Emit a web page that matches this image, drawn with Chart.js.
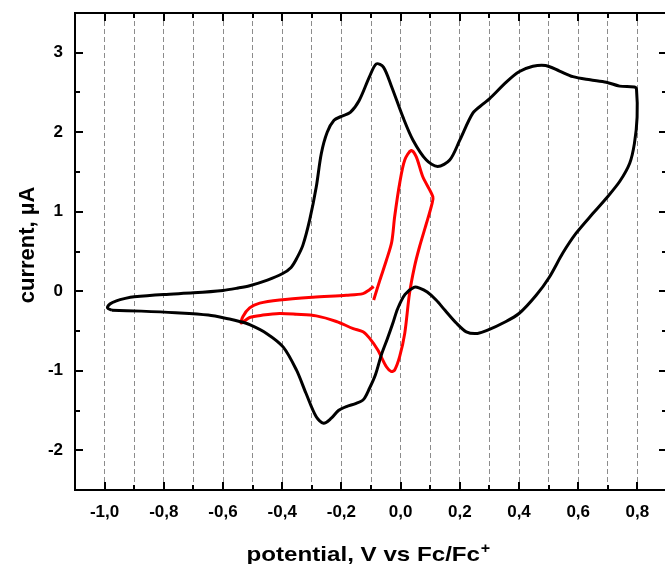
<!DOCTYPE html>
<html>
<head>
<meta charset="utf-8">
<script src="https://cdn.jsdelivr.net/npm/chart.js@4.4.1/dist/chart.umd.min.js"></script>
<style>
  html, body { margin: 0; padding: 0; background: #fff; overflow: hidden; }
  #wrap { width: 665px; height: 564px; overflow: hidden; }
  canvas { display: block; }
</style>
</head>
<body>
<div id="wrap"><canvas id="cv" width="670" height="564"></canvas></div>
<script>
/* ---- DATA ---- */
const blackX = [-0.975, -0.99, -0.982, -0.96, -0.93, -0.90, -0.80, -0.70, -0.60, -0.55, -0.51, -0.45, -0.40, -0.37, -0.35, -0.33,
  -0.307, -0.285, -0.268, -0.248, -0.225, -0.20, -0.17, -0.14, -0.105, -0.082, -0.058, -0.03, 0.008, 0.042, 0.087, 0.125,
  0.166, 0.20, 0.244, 0.28, 0.30, 0.357, 0.40, 0.447, 0.49, 0.537, 0.582, 0.64, 0.695, 0.74, 0.79, 0.797,
  0.799, 0.79, 0.774, 0.74, 0.695, 0.65, 0.593, 0.548, 0.503, 0.458, 0.40, 0.346, 0.30, 0.26, 0.222, 0.188,
  0.15, 0.12, 0.09, 0.064, 0.045, 0.015, -0.01, -0.026, -0.045, -0.065, -0.085, -0.105, -0.125, -0.15, -0.183, -0.21,
  -0.235, -0.26, -0.285, -0.32, -0.352, -0.397, -0.453, -0.51, -0.544, -0.578, -0.65, -0.76, -0.876, -0.975];
const blackY = [-0.24, -0.21, -0.16, -0.12, -0.09, -0.07, -0.04, -0.02, 0.01, 0.04, 0.07, 0.14, 0.22, 0.30, 0.42, 0.58,
  0.90, 1.31, 1.73, 2.00, 2.15, 2.20, 2.25, 2.40, 2.70, 2.86, 2.82, 2.57, 2.19, 1.90, 1.65, 1.57,
  1.65, 1.90, 2.24, 2.36, 2.42, 2.63, 2.76, 2.83, 2.84, 2.77, 2.70, 2.66, 2.63, 2.58, 2.57, 2.54,
  2.19, 1.86, 1.61, 1.38, 1.17, 0.98, 0.73, 0.48, 0.18, -0.05, -0.28, -0.40, -0.48, -0.53, -0.51, -0.40,
  -0.24, -0.11, -0.01, 0.04, 0.05, -0.04, -0.22, -0.40, -0.60, -0.80, -1.05, -1.22, -1.36, -1.41, -1.45, -1.50,
  -1.60, -1.66, -1.58, -1.28, -0.99, -0.70, -0.53, -0.42, -0.38, -0.35, -0.30, -0.27, -0.25, -0.24];

const redX = [-0.091, -0.07, -0.048, -0.03, -0.02, -0.003, 0.014, 0.036, 0.053, 0.075, 0.109, 0.106, 0.087, 0.064,
  0.047, 0.03, 0.014, -0.003, -0.02, -0.031, -0.048, -0.077, -0.105, -0.127, -0.16, -0.217, -0.285, -0.352,
  -0.409, -0.465, -0.51, -0.538, -0.533, -0.51, -0.476, -0.409, -0.296, -0.183, -0.127, -0.105, -0.091];
const redY = [-0.11, 0.14, 0.39, 0.62, 0.94, 1.36, 1.65, 1.77, 1.69, 1.44, 1.19, 1.10, 0.85, 0.56,
  0.31, -0.03, -0.53, -0.82, -0.99, -1.01, -0.95, -0.74, -0.59, -0.51, -0.47, -0.38, -0.31, -0.29,
  -0.28, -0.30, -0.33, -0.40, -0.32, -0.21, -0.15, -0.11, -0.075, -0.05, -0.03, 0.02, 0.06];

const X_MIN = -1.1, X_MAX = 0.9, X_STEP = 0.1;
const Y_MIN = -2.5, Y_MAX = 3.5, Y_STEP = 0.5;
const X_TITLE = 'potential, V vs Fc/Fc';
const X_TITLE_SUP = '+';
const Y_TITLE = 'current, µA';

const FONT = '"Liberation Sans", Arial, sans-serif';

/* ---- HELPERS ---- */
const toPoints = (xs, ys) => xs.map((x, i) => ({ x, y: ys[i] }));
const isMajorX = v => Math.round(v * 10) % 2 === 0;
const fmtX = v => v.toFixed(1).replace('.', ',');

/* ---- FRAME + INWARD TICKS + TITLES ---- */
const framePlugin = {
  id: 'frame',
  afterDatasetsDraw(chart) {
    const { ctx, chartArea: a, scales } = chart;
    ctx.save();
    ctx.strokeStyle = '#000';
    ctx.lineWidth = 2;
    ctx.strokeRect(a.left, a.top, a.right - a.left, a.bottom - a.top);

    ctx.beginPath();
    scales.x.ticks.forEach(t => {
      const px = Math.round(scales.x.getPixelForValue(t.value));
      if (px <= a.left + 1 || px >= a.right - 1) return;
      const len = isMajorX(t.value) ? 8 : 5;
      ctx.moveTo(px, a.bottom); ctx.lineTo(px, a.bottom - len);
      ctx.moveTo(px, a.top); ctx.lineTo(px, a.top + len);
    });
    scales.y.ticks.forEach(t => {
      const py = Math.round(scales.y.getPixelForValue(t.value));
      if (py <= a.top + 1 || py >= a.bottom - 1) return;
      const len = Number.isInteger(t.value) ? 8 : 5;
      ctx.moveTo(a.left, py); ctx.lineTo(a.left + len, py);
      ctx.moveTo(a.right, py); ctx.lineTo(a.right - len, py);
    });
    ctx.stroke();

    // x title, slightly widened like the original export
    ctx.fillStyle = '#000';
    ctx.textBaseline = 'alphabetic';
    ctx.font = 'bold 21px ' + FONT;
    const sx = 1.15;
    const w1 = ctx.measureText(X_TITLE).width;
    ctx.font = 'bold 14px ' + FONT;
    const w2 = ctx.measureText(X_TITLE_SUP).width;
    const cx = (a.left + a.right) / 2 - 3;
    ctx.save();
    ctx.translate(cx - (w1 + w2) * sx / 2, 561);
    ctx.scale(sx, 1);
    ctx.font = 'bold 21px ' + FONT;
    ctx.fillText(X_TITLE, 0, 0);
    ctx.font = 'bold 14px ' + FONT;
    ctx.fillText(X_TITLE_SUP, w1 + 0.5, -8);
    ctx.restore();

    // y title
    ctx.save();
    ctx.translate(33.5, 245);
    ctx.rotate(-Math.PI / 2);
    ctx.textAlign = 'center';
    ctx.font = 'bold 22px ' + FONT;
    ctx.fillText(Y_TITLE, 0, 0);
    ctx.restore();
    ctx.restore();
  }
};

/* ---- CHART ---- */
const chart = new Chart(document.getElementById('cv'), {
  type: 'scatter',
  data: {
    datasets: [
      {
        label: 'black',
        data: toPoints(blackX, blackY),
        showLine: true,
        borderColor: '#000',
        borderWidth: 3,
        pointRadius: 0,
        tension: 0.3,
        fill: false,
      },
      {
        label: 'red',
        data: toPoints(redX, redY),
        showLine: true,
        borderColor: '#ff0000',
        borderWidth: 3,
        pointRadius: 0,
        tension: 0.3,
        fill: false,
      }
    ]
  },
  options: {
    responsive: false,
    animation: false,
    devicePixelRatio: 1,
    layout: { padding: { top: 13, right: 3, left: 0, bottom: 0 } },
    plugins: { legend: { display: false }, tooltip: { enabled: false } },
    scales: {
      x: {
        type: 'linear',
        min: X_MIN,
        max: X_MAX,
        afterFit: s => { s.height = 74; s.paddingLeft = 0; s.paddingRight = 0; },
        border: { display: false, dash: [5, 3] },
        grid: {
          drawTicks: false,
          lineWidth: 1,
          color: c => (c.tick && (Math.abs(c.tick.value - X_MIN) < 1e-6 || Math.abs(c.tick.value - X_MAX) < 1e-6))
            ? 'rgba(0,0,0,0)' : '#8c8c8c',
        },
        ticks: {
          stepSize: X_STEP,
          autoSkip: false,
          maxRotation: 0,
          minRotation: 0,
          padding: 12,
          color: '#000',
          font: { family: FONT, size: 17, weight: 'bold' },
          callback: v => (isMajorX(v) && Math.abs(v - X_MIN) > 1e-6 && Math.abs(v - X_MAX) > 1e-6) ? fmtX(v) : '',
        }
      },
      y: {
        type: 'linear',
        min: Y_MIN,
        max: Y_MAX,
        afterFit: s => { s.width = 75; s.paddingTop = 0; s.paddingBottom = 0; },
        border: { display: false },
        grid: { display: false, drawTicks: false },
        ticks: {
          stepSize: Y_STEP,
          autoSkip: false,
          padding: 12,
          color: '#000',
          font: { family: FONT, size: 17, weight: 'bold' },
          callback: v => Number.isInteger(v) && v !== Y_MIN && v !== Y_MAX ? String(v) : '',
        }
      }
    }
  },
  plugins: [framePlugin]
});
</script>
</body>
</html>
